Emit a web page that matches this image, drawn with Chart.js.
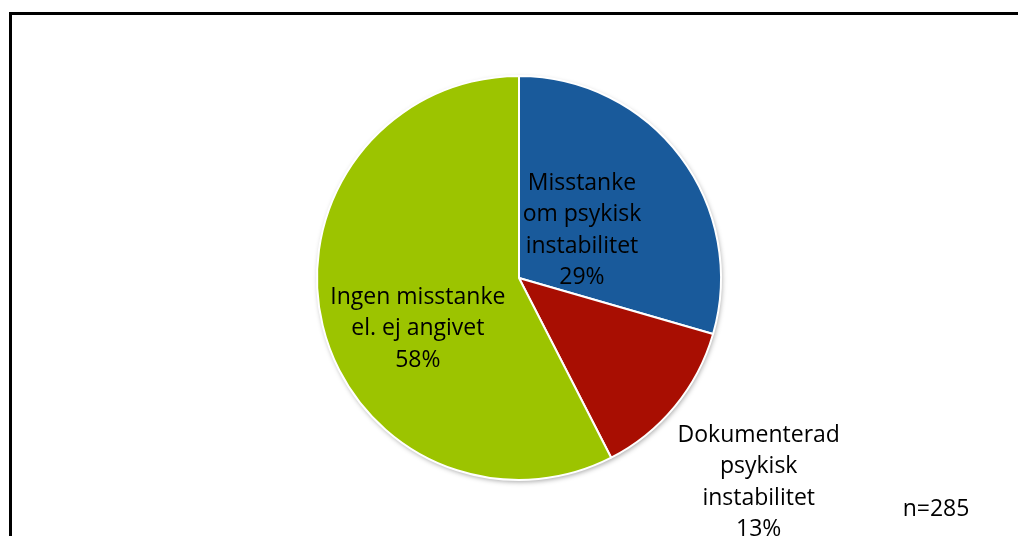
<!DOCTYPE html>
<html>
<head>
<meta charset="utf-8">
<script src="https://cdn.jsdelivr.net/npm/chart.js@4.4.0/dist/chart.umd.min.js"></script>
<style>
  html, body { margin: 0; padding: 0; background: #fff; overflow: hidden; }
  #wrap { position: relative; width: 1018px; height: 536px; }
  #frame { position: absolute; left: 9px; top: 12px; width: 1100px; height: 600px; border: 3px solid #000; box-sizing: border-box; }
  #pie { position: absolute; left: 0; top: 0; }
</style>
</head>
<body>
<div id="wrap">
  <div id="frame"></div>
  <canvas id="pie" width="1018" height="536"></canvas>
</div>
<script>
var labels = [['Misstanke', 'om psykisk', 'instabilitet'], ['Dokumenterad', 'psykisk', 'instabilitet'], ['Ingen misstanke', 'el. ej angivet']];
var counts = [84, 37, 164]; // n=285
var colors = ['#195A9B', '#A80E02', '#9CC400'];
var note = 'n=285';

// label placement: fraction of radius along the slice middle, plus small angle nudge (deg)
var labelPos = [
    { r: 0.39, da: 0 },
    { r: 1.56, da: 1 },
    { r: 0.56, da: -13 }
];

var ctx = document.getElementById('pie').getContext('2d');

var labelPlugin = {
    id: 'sliceLabels',
    beforeDatasetsDraw: function(chart) {
        // soft shadow under the pie
        var arc = chart.getDatasetMeta(0).data[0];
        var c = chart.ctx;
        c.save();
        c.shadowColor = 'rgba(0,0,0,0.35)';
        c.shadowBlur = 5;
        c.shadowOffsetX = 1;
        c.shadowOffsetY = 2;
        c.fillStyle = '#fff';
        c.beginPath();
        c.arc(arc.x, arc.y, arc.outerRadius, 0, Math.PI * 2);
        c.fill();
        c.restore();
    },
    afterDatasetsDraw: function(chart) {
        var c = chart.ctx;
        var meta = chart.getDatasetMeta(0);
        var total = counts.reduce(function(a, b) { return a + b; }, 0);
        c.save();
        c.font = '23px "Open Sans", sans-serif';
        c.fillStyle = '#000';
        c.textAlign = 'center';
        c.textBaseline = 'middle';
        var lh = 31.5;
        meta.data.forEach(function(arc, i) {
            var p = arc.getProps(['x', 'y', 'startAngle', 'endAngle', 'outerRadius']);
            var mid = (p.startAngle + p.endAngle) / 2 + labelPos[i].da * Math.PI / 180;
            var cx = p.x + Math.cos(mid) * p.outerRadius * labelPos[i].r;
            var cy = p.y + Math.sin(mid) * p.outerRadius * labelPos[i].r;
            var pct = Math.round(counts[i] / total * 100);
            var lines = labels[i].concat([pct + '%']);
            var top = cy - (lines.length - 1) * lh / 2;
            lines.forEach(function(t, k) {
                c.fillText(t, cx, top + k * lh);
            });
        });
        c.fillText(note, 936, 509);
        c.restore();
    }
};

var piechart = new Chart(ctx, {
    type: 'pie',
    data: {
        labels: labels.map(function(l) { return l.join(' '); }),
        datasets: [{
            data: counts,
            backgroundColor: colors,
            borderColor: '#ffffff',
            borderWidth: 2
        }]
    },
    options: {
        responsive: false,
        animation: false,
        layout: {
            padding: { top: 75, bottom: 55, left: 20, right: 0 }
        },
        plugins: {
            legend: { display: false },
            tooltip: { enabled: false }
        }
    },
    plugins: [labelPlugin]
});
</script>
</body>
</html>
